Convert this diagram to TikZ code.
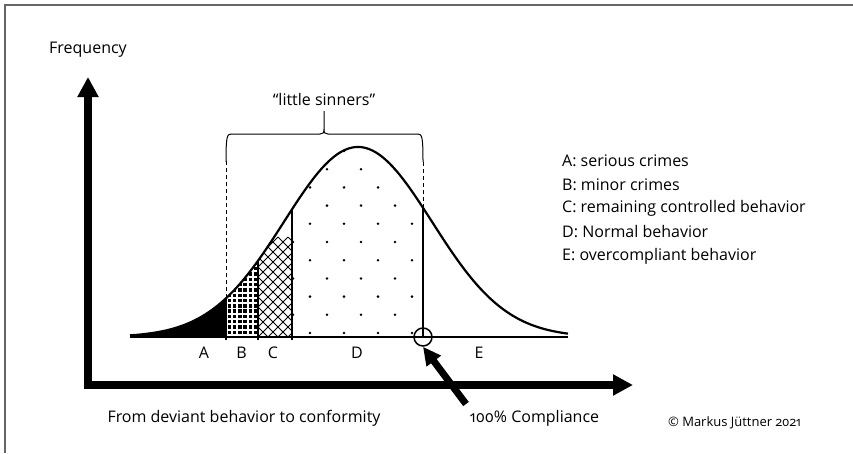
\documentclass[tikz,border=0pt]{standalone}
\usepackage{fontspec}
\setmainfont{Open Sans}[Numbers=OldStyle]
\usetikzlibrary{arrows.meta}
\begin{document}
\begin{tikzpicture}[x=1pt,y=-1pt,
  declare function={g(\x)=337-190*exp(-0.5*((\x-358)/74)^2);},
  txt/.style={font=\fontsize{16}{18}\selectfont, inner sep=0pt},
  legend/.style={txt, anchor=west},
  axis/.style={line width=8, line join=miter, {Triangle[length=20,width=20]}-{Triangle[length=20,width=20]}},
  thinline/.style={line width=1},
  dashline/.style={line width=1, dash pattern=on 4pt off 3pt}]
\useasboundingbox (0,0) rectangle (853,453);
\fill[white] (0,0) rectangle (853,453);
\draw[line width=1.5, black!60] (5,453) -- (5,5) -- (853,5);

% A region
\fill (130,337) -- plot[domain=130:226,samples=60] (\x,{g(\x)}) -- (226,337) -- cycle;
% B region
\begin{scope}
\clip (226,337) -- plot[domain=226:258,samples=30] (\x,{g(\x)}) -- (258,337) -- cycle;
\foreach \i in {0,...,6}
  \foreach \j in {0,...,16}
    \fill (227.5+\i*5.3, 334-\j*5.3) rectangle ++(3.4,-3.4);
\end{scope}
% C region
\begin{scope}
\clip (258,337) -- plot[domain=258:292,samples=30] (\x,{g(\x)}) -- (292,337) -- cycle;
\foreach \k in {-12,...,12} {
  \draw[line width=0.8] (268+\k*10,337) -- ++(100,-100);
  \draw[line width=0.8] (268+\k*10,337) -- ++(-100,-100);
}
\end{scope}
% D region
\begin{scope}
\clip (292,337) -- plot[domain=292:423,samples=60] (\x,{g(\x)}) -- (423,337) -- cycle;
\foreach \i in {0,...,8}
  \foreach \j in {0,...,10} {
    \pgfmathtruncatemacro\myparity{mod(\i+\j,2)}
    \ifnum\myparity=1 \fill (293+\i*17, 333-\j*18.2) circle (1.4); \fi
  }
\end{scope}

% curve and baseline
\draw[line width=1.5] (130,337) -- (568,337);
\draw[line width=2.2] plot[domain=130:568,samples=200] (\x,{g(\x)});
\draw[line width=1.8] (226,340) -- (226,{g(226)});
\draw[line width=2] (258,340) -- (258,{g(258)});
\draw[line width=2.5] (292,340) -- (292,{g(292)});
\draw[line width=1.8] (423,337) -- (423,{g(423)});

% dashed
\draw[dashline] (226,{g(226)}) -- (226,160);
\draw[dashline] (423,{g(423)}) -- (423,160);
% brace
\draw[thinline] (226,162) .. controls (226,137) and (227,134) .. (231,134) -- (320,134)
   .. controls (323,134) and (324,133) .. (324,129) -- (324,111) -- (324,129)
   .. controls (324,133) and (325,134) .. (328,134) -- (418,134)
   .. controls (422,134) and (423,137) .. (423,162);
\node[txt] (ls) at (324,99) {“little sinners”};

% compliance circle
\node[circle, draw, line width=1.5, minimum size=18, inner sep=0pt] (circ) at (423,337) {};

% axes
\draw[axis] (88,77) -- (88,385) -- (633,385);
\coordinate (ctail) at (466,404);
\draw[line width=7, -{Triangle[length=18,width=17]}] (ctail) -- (circ.south);

% labels
\node[txt] (la) at (204,353) {A};
\node[txt] (lb) at (241.5,353) {B};
\node[txt] (lc) at (273,353) {C};
\node[txt] (ld) at (357,353) {D};
\node[txt] (le) at (479,353) {E};

\node[txt] (freq) at (88,50) {Frequency};
\node[txt] (xl) at (244,418) {From deviant behavior to conformity};
\node[txt] (comp) at (534.5,418) {100\% Compliance};
\node[txt, font=\fontsize{13}{15}\selectfont] (copy) at (734.5,423) {© Markus Jüttner 2021};

\node[legend] (l1) at (562,161) {A: serious crimes};
\node[legend] (l2) at (562,185) {B: minor crimes};
\node[legend] (l3) at (562,208) {C: remaining controlled behavior};
\node[legend] (l4) at (562,232) {D: Normal behavior};
\node[legend] (l5) at (562,256) {E: overcompliant behavior};
\end{tikzpicture}
\end{document}
